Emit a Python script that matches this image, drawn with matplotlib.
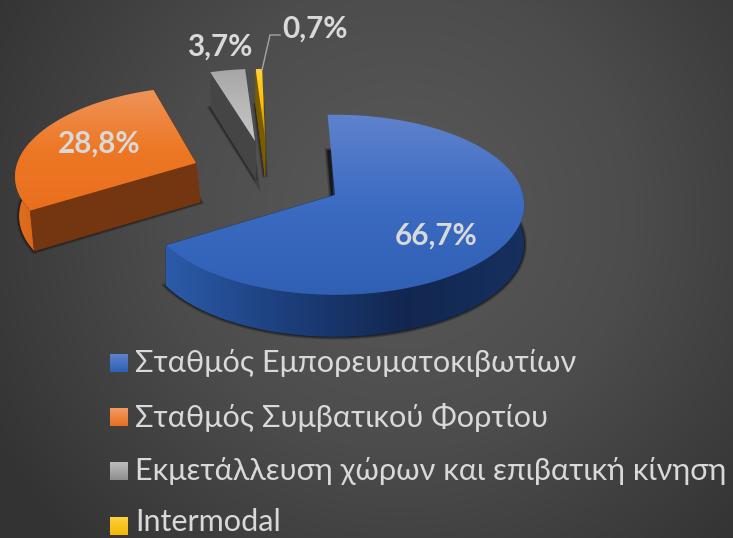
import numpy as np
import matplotlib
matplotlib.use("Agg")
import matplotlib.pyplot as plt
from matplotlib.colors import LinearSegmentedColormap
from matplotlib.patches import Polygon

categories = ["Σταθμός Εμπορευματοκιβωτίων", "Σταθμός Συμβατικού Φορτίου",
              "Εκμετάλλευση χώρων και επιβατική κίνηση", "Intermodal"]
values = [66.7, 28.8, 3.7, 0.7]

# apex of every exploded slice, in pixels, plus the look of each one in the fake 3D view
apex = [(335, 195), (196, 163), (255, 141), (265, 138)]
radius = [0.99, 0.94, 0.88, 0.84]
shear = [0.0, 0.12, 0.05, 0.05]
depth_dx = [0, 4, 1, 0]
label_pos = [(436, 236), (99, 144), (220, 47), (315, 29)]

top_colors = [["#5f82cd", "#3c6bc2", "#2f60b4"], ["#ef9358", "#ed7724", "#e96f1e"],
              ["#a6a6a6", "#b8b8b8", "#c6c6c6"], ["#ffd040", "#ffc000", "#a87f00"]]
arc_colors = [["#2b5ba9", "#1c3f7c", "#122750", "#16305f"], ["#e0701f", "#d8661a"],
              ["#555555", "#505050"], ["#8a6a00", "#6f5500"]]
wall_colors = ["#1b3768", "#743610", "#454545", "#7a5c00"]
swatch_colors = [["#5f82cd", "#2f60b4"], ["#f29a63", "#e96f1e"],
                 ["#bdbdbd", "#8e8e8e"], ["#ffd040", "#f2b800"]]

W, H = 733, 538
R_X, R_Y, PERSP = 190, 89.9, 0.11
START = -2.5

fig = plt.figure(figsize=(W / 100, H / 100), dpi=100)
ax = fig.add_axes([0, 0, 1, 1])

# background
yy, xx = np.mgrid[0:H, 0:W]
dist = np.hypot(xx - 400, yy - 215) / 470
bg_map = LinearSegmentedColormap.from_list("bg", ["#5a5a5a", "#4c4c4c", "#333333"])
ax.imshow(dist, cmap=bg_map, vmin=0, vmax=1, extent=(0, W, H, 0), aspect="auto", zorder=0)


def project(theta, r, centre, s):
    t = np.radians(theta)
    u, v = r * np.sin(t), r * np.cos(t)
    d = 1 + PERSP * v
    dy = -R_Y * v / d
    return np.column_stack((centre[0] + R_X * u / d - s * dy, centre[1] + dy)), v


def lower(pts, v, dx):
    out = pts.copy()
    out[:, 0] += dx
    out[:, 1] += 39 - 3 * v
    return out


def grad_poly(pts, colors, horizontal=False, z=3):
    cmap = LinearSegmentedColormap.from_list("g", colors)
    ramp = np.linspace(0, 1, 256)
    img = ramp[None, :] if horizontal else ramp[:, None]
    x0, x1 = pts[:, 0].min(), pts[:, 0].max()
    y0, y1 = pts[:, 1].min(), pts[:, 1].max()
    im = ax.imshow(img, cmap=cmap, extent=(x0, x1, y1, y0), aspect="auto", zorder=z)
    im.set_clip_path(Polygon(pts, closed=True, transform=ax.transData))


def flat_poly(pts, color, z=3):
    ax.add_patch(Polygon(pts, closed=True, fc=color, ec=color, lw=0.5, zorder=z))


edges = START + np.concatenate(([0], np.cumsum(values))) * 360 / sum(values)

for i in range(len(values)):
    a0, a1 = edges[i], edges[i + 1]
    theta = np.linspace(a0, a1, 160)
    arc, v = project(theta, radius[i], apex[i], shear[i])
    tip = np.array([apex[i]], dtype=float)
    top = np.vstack((tip, arc))
    vtop = np.concatenate(([0], v))
    low = lower(top, vtop, depth_dx[i])
    tip_low = lower(tip, np.zeros(1), depth_dx[i])

    # footprint shadow
    for lw, alpha in [(4, 0.25), (2.5, 0.3), (1.2, 0.5)]:
        ax.add_patch(Polygon(low, closed=True, fc=(0.07, 0.07, 0.07, alpha),
                             ec=(0.07, 0.07, 0.07, alpha), lw=lw, zorder=2))

    # radial walls
    for j in (1, -1):
        wall = np.vstack((tip, arc[j], lower(arc[[j]], v[[j]], depth_dx[i]), tip_low))
        flat_poly(wall, wall_colors[i])

    # outer wall, only the part that faces the viewer
    show = (theta % 360 > 85) & (theta % 360 < 285)
    if show.any():
        a = arc[show]
        b = lower(a, v[show], depth_dx[i])
        side = np.vstack((a, b[::-1]))
        grad_poly(side, arc_colors[i], horizontal=True, z=4)
        if i == 1:
            # front radial wall sits over the arc wall
            front = np.vstack((tip, arc[0], lower(arc[[0]], v[[0]], depth_dx[i]), tip_low))
            flat_poly(front, wall_colors[i], z=4)

    grad_poly(top, top_colors[i], z=5)

    # value label
    ax.text(label_pos[i][0], label_pos[i][1], f"{values[i]:.1f}".replace(".", ",") + "%",
            color="#d9d9d9", fontsize=21.3, fontweight="bold", family=["Lato", "DejaVu Sans"],
            ha="center", va="center", zorder=7)

# leader line of the smallest slice
ax.plot([262, 270, 280], [70, 35, 35], color="#a6a6a6", lw=1, zorder=6)

# legend
legend_y = [363, 417, 471, 526]
text_y = [363, 417, 471, 522]
for name, y, ty, cols in zip(categories, legend_y, text_y, swatch_colors):
    box = np.array([(110, y - 9), (128, y - 9), (128, y + 9), (110, y + 9)], dtype=float)
    grad_poly(box, cols, z=5)
    ax.text(135, ty, name, color="#d9d9d9", fontsize=22.1, fontweight="normal",
            family=["Lato", "Noto Sans", "DejaVu Sans"], ha="left", va="center", zorder=7)

ax.set_xlim(0, W)
ax.set_ylim(H, 0)
ax.axis("off")
fig.savefig("out.png", dpi=100)
